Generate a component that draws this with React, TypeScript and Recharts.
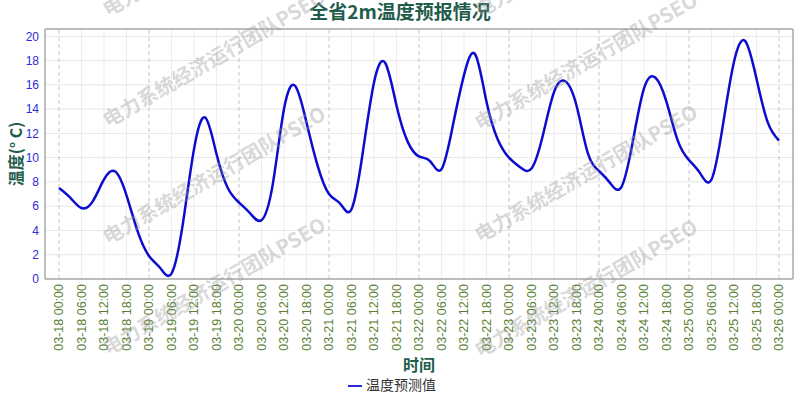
import React from "react";
import {
  CartesianGrid,
  Legend,
  Line,
  LineChart,
  ReferenceLine,
  XAxis,
  YAxis,
} from "recharts";

// forecast is every 3 hours, from 03-18 00:00 to 03-26 00:00
const days = ["03-18", "03-19", "03-20", "03-21", "03-22", "03-23", "03-24", "03-25", "03-26"];
const hours = ["00:00", "03:00", "06:00", "09:00", "12:00", "15:00", "18:00", "21:00"];
const times = days.flatMap((d) => hours.map((h) => `${d} ${h}`)).slice(0, 65);

const temps = [
  7.5, 6.7, 5.85, 6.4, 8.2, 8.85, 6.9, 3.9,
  1.9, 0.9, 0.45, 4.5, 10.7, 13.3, 10.3, 7.5,
  6.3, 5.4, 4.85, 7.8, 14.0, 15.9, 12.9, 9.3,
  7.0, 6.2, 5.75, 10.4, 16.2, 17.8, 14.3, 11.3,
  10.1, 9.7, 9.05, 12.6, 16.8, 18.5, 14.6, 11.5,
  10.0, 9.2, 9.1, 11.8, 15.4, 16.3, 14.3, 10.4,
  8.9, 7.9, 7.6, 11.3, 15.7, 16.6, 14.6, 11.4,
  9.8, 8.7, 8.2, 12.6, 17.9, 19.6, 16.5, 12.9,
  11.4,
];

const yTicks = [0, 2, 4, 6, 8, 10, 12, 14, 16, 18, 20];

const title = "全省2m温度预报情况";
const yTitle = "温度(° C)";
const xTitle = "时间";
const seriesName = "温度预测值";
const watermark = "电力系统经济运行团队PSEO";

const data = times.map((t, i) => ({ time: t, temp: temps[i] }));

const labelFont = "'Liberation Sans', Arial, sans-serif";
const cjkFont = "'Noto Sans CJK SC', 'Noto Sans', sans-serif";
const teal = "#1f5c4c";

function TimeTick({ x, y, payload }: any) {
  return (
    <g transform={`translate(${x},${y})`}>
      <text
        transform="rotate(-90)"
        x={-3}
        y={0}
        dy="0.35em"
        textAnchor="end"
        fill="#5a7f35"
        fontSize={12.5}
        fontFamily={labelFont}
      >
        {payload.value}
      </text>
    </g>
  );
}

function YTitle({ viewBox }: any) {
  const cx = 15;
  const cy = viewBox.y + viewBox.height / 2;
  return (
    <text
      x={cx}
      y={cy}
      transform={`rotate(-90, ${cx}, ${cy})`}
      textAnchor="middle"
      dominantBaseline="central"
      fill={teal}
      fontSize={16}
      fontWeight="bold"
      fontFamily={cjkFont}
    >
      {yTitle}
    </text>
  );
}

function XTitle({ viewBox }: any) {
  return (
    <text
      x={viewBox.x + viewBox.width / 2}
      y={viewBox.y + 85}
      textAnchor="middle"
      dominantBaseline="central"
      fill={teal}
      fontSize={16}
      fontWeight="bold"
      fontFamily={cjkFont}
    >
      {xTitle}
    </text>
  );
}

// watermark anchors, left column and right column
const marks = [
  [108, 17], [108, 128], [108, 245], [108, 356],
  [480, 18], [480, 131], [480, 243], [480, 358],
];

export default function App() {
  const sixHour = times.filter((t) => !t.endsWith("03:00") && !t.endsWith("09:00") && !t.endsWith("15:00") && !t.endsWith("21:00"));

  return (
    <div style={{ position: "absolute", left: 0, top: 0, width: 800, height: 400, background: "#fff" }}>
      <LineChart
        width={800}
        height={400}
        data={data}
        margin={{ top: 28, right: 6, left: 0, bottom: 6 }}
      >
        <CartesianGrid vertical={false} stroke="#e6e6e6" />
        {sixHour.map((t) => (
          <ReferenceLine
            key={t}
            x={t}
            stroke={t.endsWith(" 00:00") ? "#c4c4c4" : "#ececec"}
            strokeDasharray={t.endsWith(" 00:00") ? "4 3" : undefined}
          />
        ))}
        <XAxis
          dataKey="time"
          interval={1}
          height={95}
          tick={<TimeTick />}
          tickLine={false}
          tickSize={0}
          tickMargin={2}
          padding={{ left: 14, right: 14 }}
          axisLine={{ stroke: "#aaa", strokeWidth: 1.5 }}
          label={<XTitle />}
        />
        <XAxis
          xAxisId="top"
          orientation="top"
          dataKey="time"
          height={1}
          tick={false}
          tickLine={false}
          axisLine={{ stroke: "#aaa", strokeWidth: 1.5 }}
        />
        <YAxis
          domain={[0, 20.6]}
          ticks={yTicks}
          width={45}
          tickLine={false}
          tickSize={4}
          tick={{ fill: "#2c2cd6", fontSize: 12, fontFamily: labelFont }}
          axisLine={{ stroke: "#aaa", strokeWidth: 1.5 }}
          label={<YTitle />}
        />
        <YAxis
          yAxisId="right"
          orientation="right"
          domain={[0, 20.6]}
          width={1}
          tick={false}
          tickLine={false}
          axisLine={{ stroke: "#aaa", strokeWidth: 1.5 }}
        />
        <Legend
          verticalAlign="bottom"
          iconType="plainline"
          iconSize={14}
          wrapperStyle={{ fontFamily: cjkFont, fontSize: 14 }}
          formatter={(v: string) => <span style={{ color: "#333" }}>{v}</span>}
        />
        <Line
          type="natural"
          dataKey="temp"
          name={seriesName}
          stroke="#0c0cd0"
          strokeWidth={2.5}
          dot={false}
          activeDot={false}
          isAnimationActive={false}
        />
      </LineChart>

      <svg
        width={800}
        height={400}
        style={{ position: "absolute", left: 0, top: 0, pointerEvents: "none" }}
      >
        <text
          x={400}
          y={19}
          textAnchor="middle"
          fill={teal}
          fontSize={19}
          fontWeight="bold"
          fontFamily={cjkFont}
        >
          {title}
        </text>
        {marks.map(([mx, my]) => (
          <text
            key={`${mx}-${my}`}
            x={mx}
            y={my}
            transform={`rotate(-30, ${mx}, ${my})`}
            fill="#9a9a9a"
            fillOpacity={0.4}
            fontSize={20}
            fontWeight="bold"
            fontFamily={cjkFont}
          >
            {watermark}
          </text>
        ))}
      </svg>
    </div>
  );
}
